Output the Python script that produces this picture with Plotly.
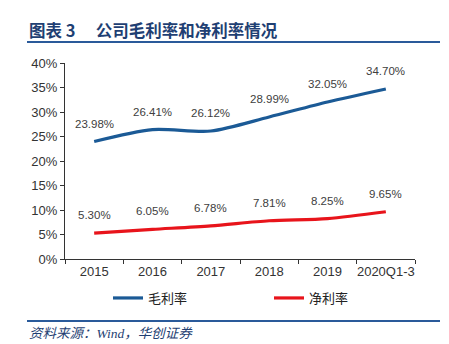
import plotly.graph_objects as go

categories = ["2015", "2016", "2017", "2018", "2019", "2020Q1-3"]
gross_margin = [23.98, 26.41, 26.12, 28.99, 32.05, 34.70]
net_margin = [5.30, 6.05, 6.78, 7.81, 8.25, 9.65]
y_ticks = [0, 5, 10, 15, 20, 25, 30, 35, 40]
y_tick_labels = [f"{v}%" for v in y_ticks]

BLUE = "#1B5A96"
RED = "#E8141B"
NAVY = "#1F3F73"

fig = go.Figure()
fig.add_trace(go.Scatter(x=categories, y=gross_margin, mode="lines", name="毛利率",
                         line=dict(color=BLUE, width=3.2, shape="spline", smoothing=0.8),
                         hoverinfo="skip"))
fig.add_trace(go.Scatter(x=categories, y=net_margin, mode="lines", name="净利率",
                         line=dict(color=RED, width=3.2, shape="spline", smoothing=0.8),
                         hoverinfo="skip"))

for series in (gross_margin, net_margin):
    for i, v in enumerate(series):
        fig.add_annotation(x=i, y=v, text=f"{v:.2f}%", showarrow=False, yshift=18,
                           font=dict(family="Liberation Sans, Arial", size=11.5, color="#404040"))

# header / footer decorations
fig.add_annotation(xref="paper", yref="paper", x=(27-65)/350, y=1 + (63-30)/196,
                   xanchor="left", yanchor="middle", showarrow=False,
                   text="<b>图表 3　 公司毛利率和净利率情况</b>",
                   font=dict(family="Noto Sans CJK SC", size=16.5, color=NAVY))
fig.add_shape(type="line", xref="paper", yref="paper", x0=(27-65)/350, x1=(440-65)/350,
              y0=1 + (63-42)/196, y1=1 + (63-42)/196, line=dict(color="#2A5A9A", width=2))
fig.add_shape(type="line", xref="paper", yref="paper", x0=(27-65)/350, x1=(440-65)/350,
              y0=-(321-259)/196, y1=-(321-259)/196, line=dict(color="#2A5A9A", width=2))
fig.add_annotation(xref="paper", yref="paper", x=(27-65)/350, y=-(333-259)/196,
                   xanchor="left", yanchor="middle", showarrow=False,
                   text="<i>资料来源：Wind，华创证券</i>",
                   font=dict(family="Liberation Serif, Noto Sans CJK SC", size=13.5, color=NAVY))

fig.update_layout(
    width=449, height=344,
    margin=dict(l=65, r=34, t=63, b=85, autoexpand=False),
    paper_bgcolor="white", plot_bgcolor="white",
    showlegend=True,
    legend=dict(orientation="h", xref="container", yref="container",
                x=(108)/449, y=1 - 298/344, xanchor="left", yanchor="middle",
                font=dict(family="Noto Sans CJK SC", size=13, color="#222222"),
                entrywidthmode="pixels", entrywidth=116,
                itemwidth=30, tracegroupgap=0, bgcolor="rgba(0,0,0,0)"),
    xaxis=dict(type="category", range=[-0.5, len(categories) - 0.5], showline=True,
               linecolor="#333333", linewidth=1, tickangle=0,
               ticks="outside", ticklen=4, tickcolor="#333333", tickson="boundaries",
               showgrid=False, zeroline=False, automargin=False,
               tickfont=dict(family="Liberation Sans, Arial", size=13, color="#333333")),
    yaxis=dict(range=[0, 40], tickvals=y_ticks, ticktext=y_tick_labels,
               showline=True, linecolor="#333333", linewidth=1,
               ticks="outside", ticklen=4, tickcolor="#333333",
               showgrid=False, zeroline=False, automargin=False,
               tickfont=dict(family="Liberation Sans, Arial", size=13, color="#333333")),
)

fig.write_html("out.html")
